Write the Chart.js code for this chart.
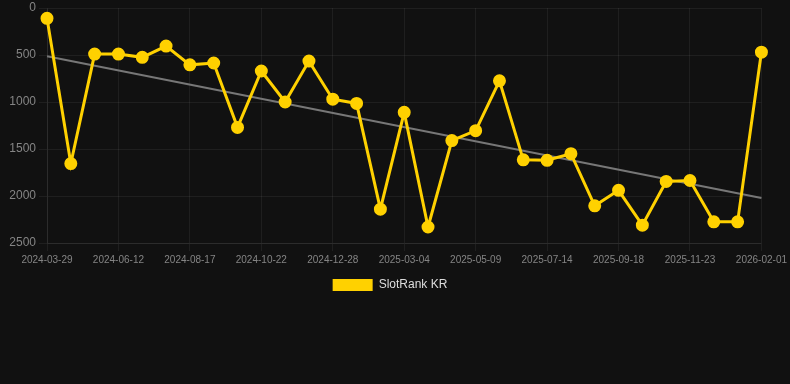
<!DOCTYPE html>
<html>
<head>
<meta charset="utf-8">
<script src="https://cdn.jsdelivr.net/npm/chart.js@4.4.1/dist/chart.umd.min.js"></script>
<style>
  html, body { margin: 0; padding: 0; background: #111111; }
  #wrap { position: relative; width: 790px; height: 301px; }
</style>
</head>
<body>
<div id="wrap"><canvas id="myChart"></canvas></div>
<script>
// dates of each rank reading (only every 3rd one is shown on the axis)
const dates = [
  '2024-03-29', '2024-04-23', '2024-05-18', '2024-06-12', '2024-07-04', '2024-07-26',
  '2024-08-17', '2024-09-08', '2024-09-30', '2024-10-22', '2024-11-13', '2024-12-06',
  '2024-12-28', '2025-01-19', '2025-02-10', '2025-03-04', '2025-03-26', '2025-04-17',
  '2025-05-09', '2025-05-31', '2025-06-22', '2025-07-14', '2025-08-05', '2025-08-27',
  '2025-09-18', '2025-10-10', '2025-11-01', '2025-11-23', '2025-12-16', '2026-01-08',
  '2026-02-01'
]
const ranks = [
  110, 1655, 490, 490, 525, 405, 605, 585, 1270, 670, 1000, 565, 970, 1015, 2140, 1110,
  2330, 1410, 1305, 775, 1615, 1620, 1550, 2105, 1940, 2310, 1845, 1835, 2275, 2275, 470
]
const yTicks = [0, 500, 1000, 1500, 2000, 2500]

// least squares trend through the ranks
const n = ranks.length
const meanX = (n - 1) / 2
const meanY = ranks.reduce((a, b) => a + b) / n
let sxy = 0
let sxx = 0
ranks.forEach((v, i) => { sxy += (i - meanX) * (v - meanY); sxx += (i - meanX) * (i - meanX) })
const slope = sxy / sxx
const trend = ranks.map((v, i) => (i === 0 || i === n - 1) ? meanY + slope * (i - meanX) : null)

const gridColor = 'rgba(255,255,255,0.06)'
const tickColor = '#858585'
const font = 'Arial, "Liberation Sans", sans-serif'

new Chart(document.getElementById('myChart').getContext('2d'), {
  type: 'line',
  data: {
    labels: dates,
    datasets: [
      {
        label: 'SlotRank KR',
        data: ranks,
        borderColor: '#FFD100',
        backgroundColor: '#FFD100',
        borderWidth: 3,
        pointRadius: 5,
        pointHoverRadius: 5,
        tension: 0,
        order: 1
      },
      {
        label: 'trend',
        data: trend,
        spanGaps: true,
        borderColor: '#777777',
        borderWidth: 2,
        pointRadius: 0,
        tension: 0,
        order: 2
      }
    ]
  },
  options: {
    responsive: true,
    maintainAspectRatio: false,
    animation: false,
    layout: { padding: { top: 0, left: 0, right: 10 } },
    scales: {
      x: {
        grid: { color: gridColor },
        border: { color: gridColor },
        ticks: {
          color: tickColor,
          font: { size: 10, family: font },
          maxRotation: 0,
          autoSkip: false,
          callback: function (value, index) { return index % 3 === 0 ? dates[index] : null }
        }
      },
      y: {
        reverse: true,
        min: yTicks[0],
        max: yTicks[yTicks.length - 1],
        grid: { color: gridColor },
        border: { color: gridColor },
        afterBuildTicks: function (axis) { axis.ticks = yTicks.map(v => ({ value: v })) },
        afterFit: function (axis) { axis.width = 47 },
        ticks: {
          color: tickColor,
          font: { size: 12, family: font, lineHeight: 0.6 },
          callback: value => String(value)
        }
      }
    },
    plugins: {
      tooltip: { enabled: false },
      legend: {
        position: 'bottom',
        labels: {
          color: '#dddddd',
          boxWidth: 40,
          boxHeight: 12,
          font: { size: 12, family: font },
          filter: item => item.text !== 'trend',
          generateLabels: function (chart) {
            const items = Chart.defaults.plugins.legend.labels.generateLabels(chart)
            items.forEach(item => { item.lineWidth = 0 })
            return items
          }
        }
      }
    }
  }
})
</script>
</body>
</html>
